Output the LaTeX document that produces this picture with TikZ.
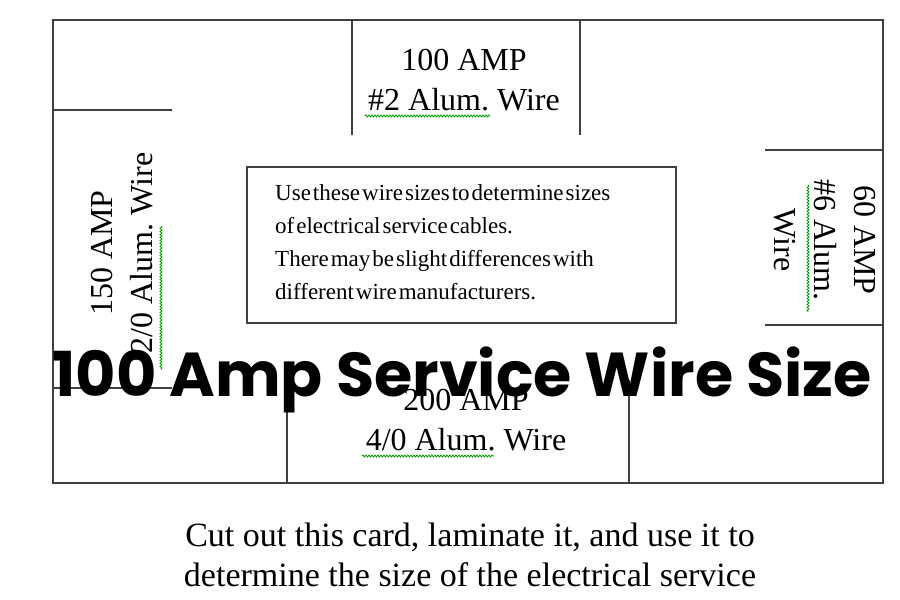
\documentclass[tikz,border=0pt]{standalone}
\usepackage{fontspec}
\setmainfont{Liberation Serif}
\newfontfamily\titlefont{Poppins}
\usetikzlibrary{decorations.pathmorphing}
\begin{document}
\begin{tikzpicture}[x=1pt,y=-1pt,
  ln/.style={draw=black!75,line width=1.6pt},
  lbl/.style={font=\fontsize{32}{40}\selectfont,align=center,inner sep=0},
  sq/.style={draw=green!60!black,line width=0.8pt,decorate,decoration={snake,amplitude=1pt,segment length=3pt}}]
\useasboundingbox[fill=white] (0,0) rectangle (900,600);
\draw[ln] (53,20) rectangle (883,483);
\draw[ln] (352,20) -- (352,135);
\draw[ln] (580,20) -- (580,135);
\draw[ln] (53,110) -- (172,110);
\draw[ln] (53,388) -- (172,388);
\draw[ln] (765,150) -- (883,150);
\draw[ln] (765,325) -- (883,325);
\draw[ln] (287,380) -- (287,483);
\draw[ln] (629,380) -- (629,483);
\node[draw=black!75,line width=1.6pt,minimum width=429pt,minimum height=156pt] (box) at (461.5,245) {};
\node[font={\fontsize{23}{33}\selectfont\spaceskip=2pt\relax},align=left,inner sep=0,anchor=north west] (txt) at (275,184)
 {Use these wire sizes to determine sizes\\of electrical service cables.\\There may be slight differences with\\different wire manufacturers.};
\node[lbl] (t) at (464,80) {100 AMP\\\#2 Alum.\ Wire};
\draw[sq] (365,116) -- (490,116);
\node[lbl,rotate=90] (l) at (122,253) {150 AMP\\2/0 Alum.\ Wire};
\draw[sq] (161,226) -- (161,370);
\node[lbl,rotate=-90] (r) at (825,240) {60 AMP\\\#6 Alum.\\Wire};
\draw[sq] (808,185) -- (808,312);
\node[lbl] (b) at (466,420) {200 AMP\\4/0 Alum.\ Wire};
\draw[sq] (362,456) -- (494,456);
\node[font=\fontsize{34}{40}\selectfont,align=center,inner sep=0] (cap) at (470,555) {Cut out this card, laminate it, and use it to\\determine the size of the electrical service};
\node[font=\titlefont\bfseries\fontsize{62}{70}\selectfont,inner sep=0] (title) at (462,380) {100 Amp Service Wire Size};
\end{tikzpicture}
\end{document}
